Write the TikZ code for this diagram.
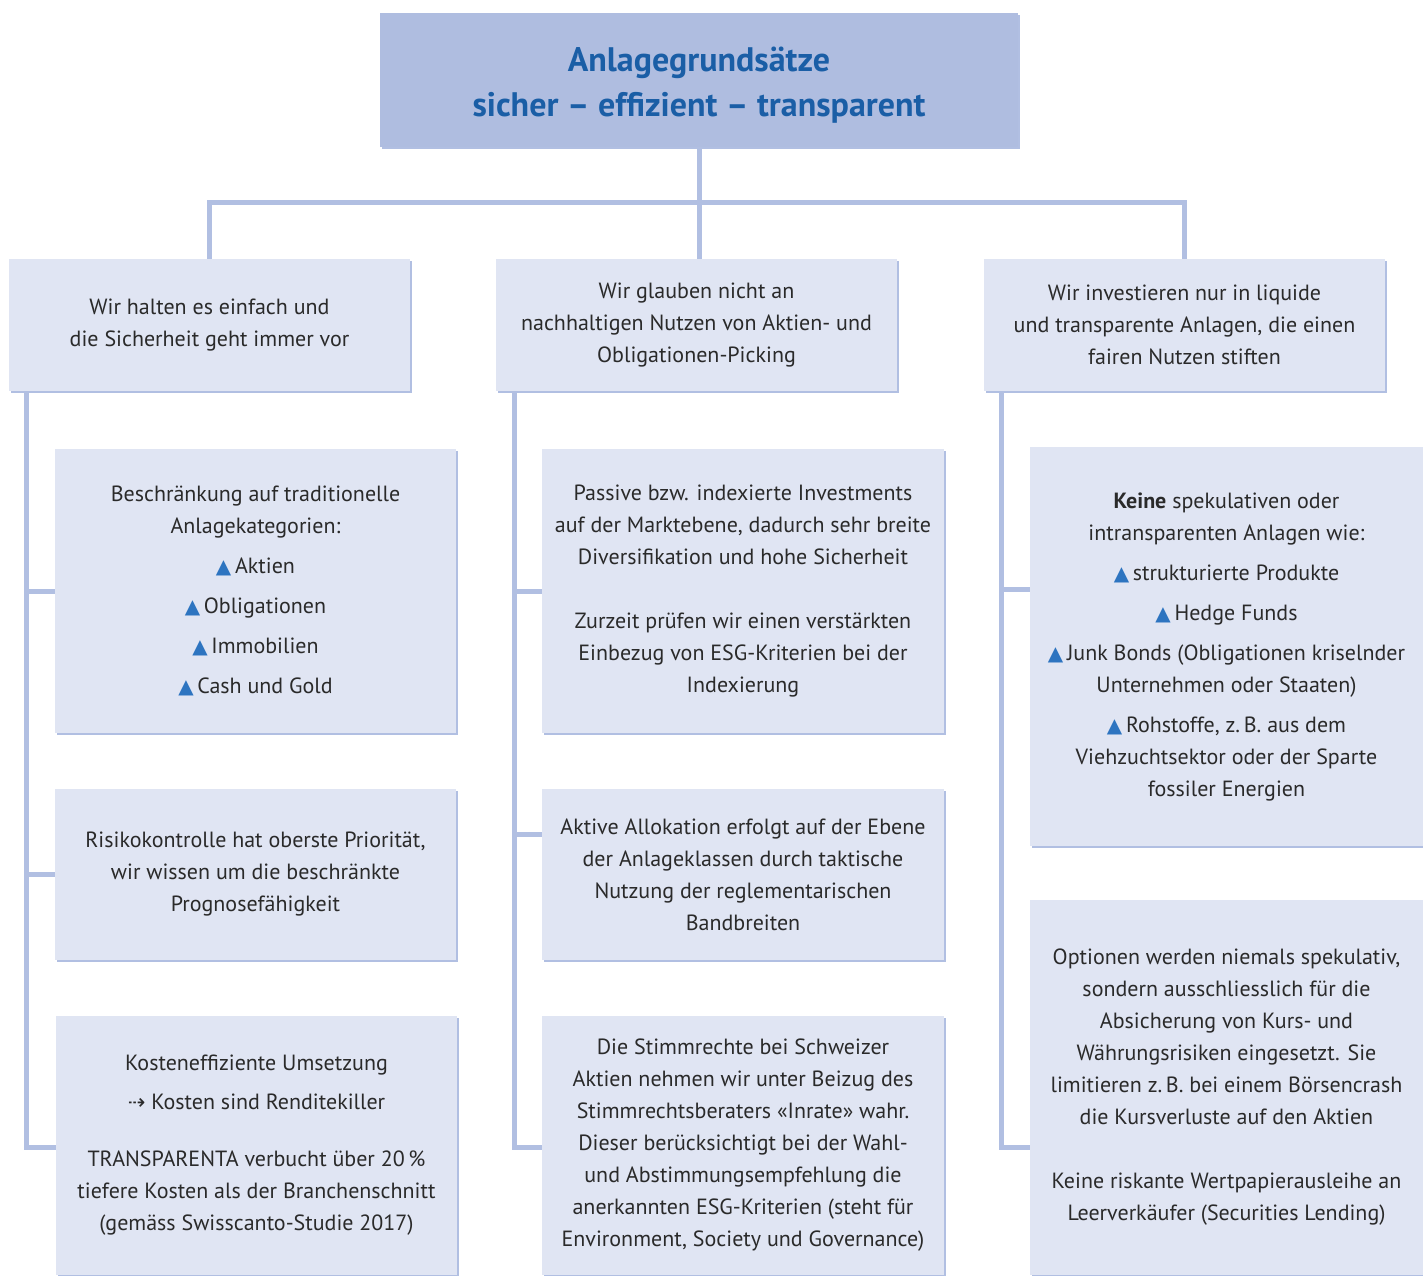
\documentclass[tikz,border=0pt]{standalone}
\usepackage{fontspec}
\setmainfont{PT Sans}
\newfontfamily\symfont{DejaVu Sans}
\usetikzlibrary{shadows}
\definecolor{linec}{HTML}{B1BFE2}
\definecolor{boxfill}{HTML}{E0E5F3}
\definecolor{topfill}{HTML}{AFBDE0}
\definecolor{titleblue}{HTML}{1A5EA6}
\definecolor{textc}{HTML}{2A2A2A}
\definecolor{triblue}{HTML}{2D74C0}
\newcommand\tri{{\symfont\fontsize{20}{20}\selectfont\textcolor{triblue}{▲}}\,}
\newcommand\darr{{\symfont\fontsize{21}{21}\selectfont ⇢}\ }
\begin{document}
\begin{tikzpicture}[x=1pt,y=-1pt,
  box/.style={fill=boxfill, draw=none, align=center, inner sep=0pt, text=textc,
    font=\fontsize{22}{32}\selectfont,
    drop shadow={shadow xshift=2pt, shadow yshift=-2pt, fill=linec, opacity=1}},
  topbox/.style={box, fill=topfill, text=titleblue, font=\fontsize{34}{45}\selectfont\bfseries},
  conn/.style={draw=linec, line width=5pt}]
\useasboundingbox (0,0) rectangle (1423,1275);
\fill[white] (0,0) rectangle (1423,1275);

% connectors
\coordinate (bar) at (699,202);
\coordinate (ls) at (26,391);
\coordinate (le) at (26,1147);
\coordinate (ms) at (514,391);
\coordinate (me) at (514,1147);
\coordinate (rs) at (1001,391);
\coordinate (re) at (1001,1147);
\coordinate (mbr) at (514,834);

\node[topbox, minimum width=638pt, minimum height=134pt] (top) at (699,80)
  {\rule{0pt}{34pt}Anlagegrundsätze\\ sicher – effizient – transparent};

\node[box, minimum width=401pt, minimum height=132pt] (l1) at (209.5,325)
  {Wir halten es einfach und\\ die Sicherheit geht immer vor};
\node[box, minimum width=401pt, minimum height=132pt] (m1) at (696.5,325)
  {Wir glauben nicht an\\ nachhaltigen Nutzen von Aktien- und\\ Obligationen-Picking};
\node[box, minimum width=401pt, minimum height=132pt] (r1) at (1184.5,325)
  {Wir investieren nur in liquide\\ und transparente Anlagen, die einen\\ fairen Nutzen stiften};

\node[box, minimum width=401pt, minimum height=284pt] (la) at (255.5,591)
  {Beschränkung auf traditionelle\\ Anlagekategorien:\\[8pt] \tri Aktien\\[8pt] \tri Obligationen\\[8pt] \tri Immobilien\\[8pt] \tri Cash und Gold};
\node[box, minimum width=401pt, minimum height=171pt] (lb) at (255.5,874.5)
  {Risikokontrolle hat oberste Priorität,\\ wir wissen um die beschränkte\\ Prognosefähigkeit};
\node[box, minimum width=401pt, minimum height=259pt] (lc) at (256.5,1145.5)
  {Kosteneffiziente Umsetzung\\[7pt] \darr Kosten sind Renditekiller\\[25pt] TRANSPARENTA verbucht über 20\,\%\\ tiefere Kosten als der Branchenschnitt\\ (gemäss Swisscanto-Studie 2017)};

\node[box, minimum width=402pt, minimum height=284pt] (ma) at (743,591)
  {Passive bzw. indexierte Investments\\ auf der Marktebene, dadurch sehr breite\\ Diversifikation und hohe Sicherheit\\[32pt] Zurzeit prüfen wir einen verstärkten\\ Einbezug von ESG-Kriterien bei der\\ Indexierung};
\node[box, minimum width=402pt, minimum height=171pt] (mb) at (743,874.5)
  {Aktive Allokation erfolgt auf der Ebene\\ der Anlageklassen durch taktische\\ Nutzung der reglementarischen\\ Bandbreiten};
\node[box, minimum width=402pt, minimum height=259pt] (mc) at (743,1145.5)
  {Die Stimmrechte bei Schweizer\\ Aktien nehmen wir unter Beizug des\\ Stimmrechtsberaters «Inrate» wahr.\\ Dieser berücksichtigt bei der Wahl-\\ und Abstimmungsempfehlung die\\ anerkannten ESG-Kriterien (steht für\\ Environment, Society und Governance)};

\node[box, minimum width=393pt, minimum height=399pt] (ra) at (1226.5,646.5)
  {\textbf{Keine} spekulativen oder\\ intransparenten Anlagen wie:\\[8pt] \tri strukturierte Produkte\\[8pt] \tri Hedge Funds\\[8pt] \tri Junk Bonds (Obligationen kriselnder\\ Unternehmen oder Staaten)\\[8pt] \tri Rohstoffe, z.\,B. aus dem\\ Viehzuchtsektor oder der Sparte\\ fossiler Energien};
\node[box, minimum width=393pt, minimum height=375pt] (rb) at (1226.5,1087.5)
  {Optionen werden niemals spekulativ,\\ sondern ausschliesslich für die\\ Absicherung von Kurs- und\\ Währungsrisiken eingesetzt. Sie\\ limitieren z.\,B. bei einem Börsencrash\\ die Kursverluste auf den Aktien\\[32pt] Keine riskante Wertpapierausleihe an\\ Leerverkäufer (Securities Lending)};

\draw[conn] (top.south) -- (bar);
\draw[conn] (l1.north) |- (bar) -| (r1.north);
\draw[conn] (bar) -- (bar |- m1.north);

\draw[conn] (ls) -- (le) -- (le -| lc.west);
\draw[conn] (ls |- la.west) -- (la.west);
\draw[conn] (ls |- lb.west) -- (lb.west);

\draw[conn] (ms) -- (me) -- (me -| mc.west);
\draw[conn] (ms |- ma.west) -- (ma.west);
\draw[conn] (mbr) -- (mbr -| mb.west);

\draw[conn] (rs) -- (re) -- (re -| rb.west);
\draw[conn] (rs |- 0,589) -- (ra.west |- 0,589);
\end{tikzpicture}
\end{document}
